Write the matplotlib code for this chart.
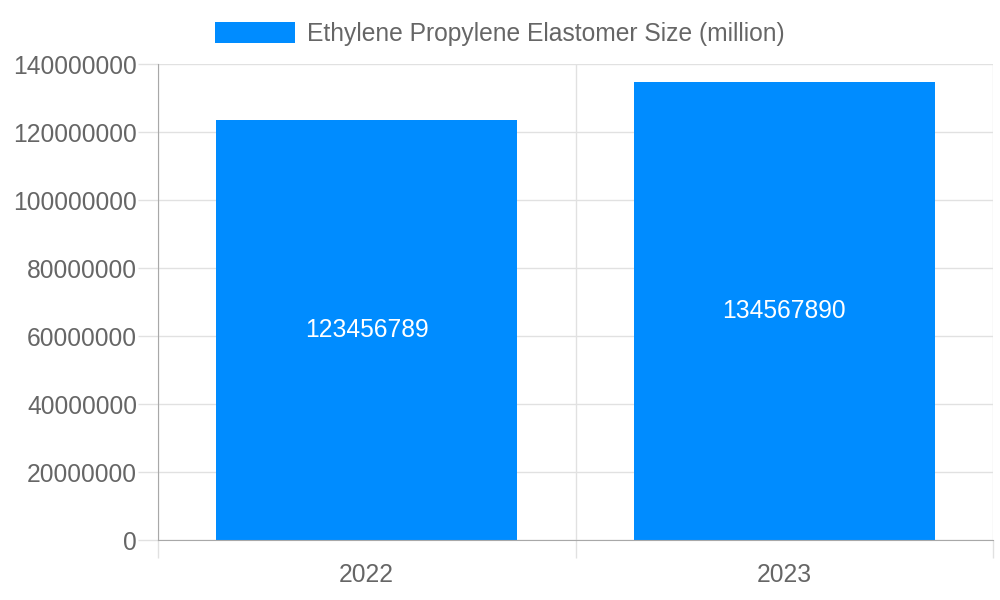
import matplotlib
matplotlib.use("Agg")
import matplotlib.pyplot as plt
import numpy as np

categories = ["2022", "2023"]
values = [123456789, 134567890]
series_name = "Ethylene Propylene Elastomer Size (million)"
y_ticks = [0, 20000000, 40000000, 60000000, 80000000, 100000000, 120000000, 140000000]

plt.rcParams['font.family'] = ['Liberation Sans', 'DejaVu Sans']
bar_color = "#008cff"
text_color = "#666666"
grid_color = "#e1e1e1"
axis_color = "#a8a8a8"

fig = plt.figure(figsize=(10, 6), dpi=100)
ax = fig.add_axes([0.158, 0.1, 0.835, 0.7933])

x = np.arange(len(categories))
bars = ax.bar(x, values, width=0.72, color=bar_color, label=series_name, zorder=3)
for b, v in zip(bars, values):
    ax.text(b.get_x() + b.get_width() / 2, v / 2, str(v), ha="center", va="center",
            color="white", fontsize=17.7, zorder=4)

ax.set_xlim(-0.5, len(categories) - 0.5)
ax.set_ylim(0, y_ticks[-1])
ax.set_yticks(y_ticks)
ax.set_yticklabels([str(t) for t in y_ticks])
ax.set_xticks(x)
ax.set_xticklabels(categories)
ax.set_xticks(np.arange(len(categories) + 1) - 0.5, minor=True)

ax.tick_params(axis="y", length=14.4, width=1, color=grid_color, labelsize=17.7, labelcolor=text_color, pad=0.8)
ax.tick_params(axis="x", which="major", length=0, labelsize=17.7, labelcolor=text_color, pad=16.8)
ax.tick_params(axis="x", which="minor", length=13, width=1, color=grid_color)

ax.grid(axis="y", color=grid_color, linewidth=1, zorder=0)
ax.grid(axis="x", which="minor", color=grid_color, linewidth=1, zorder=0)

for s in ["top", "right"]:
    ax.spines[s].set_visible(False)
ax.spines["left"].set_color(axis_color)
ax.spines["bottom"].set_color(axis_color)
ax.spines["left"].set_zorder(5)
ax.spines["bottom"].set_zorder(5)

fig.legend(handles=[bars], labels=[series_name], loc="upper center", bbox_to_anchor=(0.5, 1.0),
           frameon=False, fontsize=17.7, labelcolor=text_color, handlelength=3.25, handleheight=0.95,
           handletextpad=0.5)

fig.savefig("out.png", dpi=100)
